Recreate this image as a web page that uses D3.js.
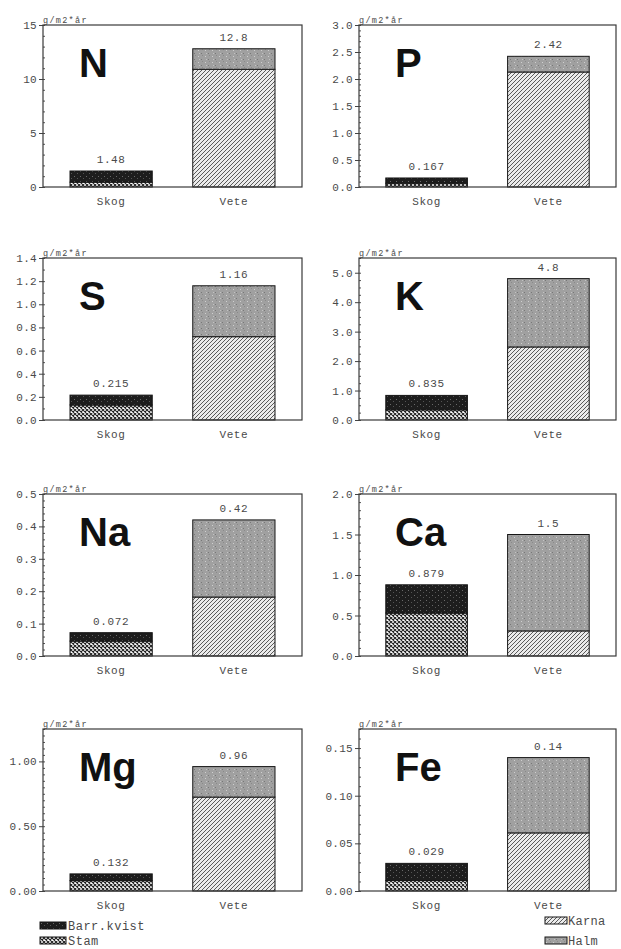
<!DOCTYPE html>
<html>
<head>
<meta charset="utf-8">
<script src="https://cdn.jsdelivr.net/npm/d3@7"></script>
<style>
  body { margin: 0; background: #fff; }
  svg text { font-family: "Liberation Mono", "DejaVu Sans Mono", monospace; fill: #4a4a4a; }
</style>
</head>
<body>
<svg></svg>
<script>
//Setting
const width = 621;
const height = 949;

//Data
const elements = ["N", "P", "S", "K", "Na", "Ca", "Mg", "Fe"];
const categories = ["Skog", "Vete"];
const yMax = [15, 3.0, 1.4, 5.5, 0.5, 2.0, 1.25, 0.17];
const tickLabels = [
  ["0", "5", "10", "15"],
  ["0.0", "0.5", "1.0", "1.5", "2.0", "2.5", "3.0"],
  ["0.0", "0.2", "0.4", "0.6", "0.8", "1.0", "1.2", "1.4"],
  ["0.0", "1.0", "2.0", "3.0", "4.0", "5.0"],
  ["0.0", "0.1", "0.2", "0.3", "0.4", "0.5"],
  ["0.0", "0.5", "1.0", "1.5", "2.0"],
  ["0.00", "0.50", "1.00"],
  ["0.00", "0.05", "0.10", "0.15"]
];
const minorStep = [1, 0.1, 0.1, 0.25, 0.02, 0.1, 0.05, 0.01];

// Skog: Stam (bottom) + Barr.kvist (top)
const skogStam = [0.45, 0.07, 0.13, 0.345, 0.046, 0.53, 0.08, 0.011];
const skogBarr = [1.03, 0.097, 0.085, 0.49, 0.026, 0.349, 0.052, 0.018];
// Vete: Karna (bottom) + Halm (top)
const veteKarna = [10.9, 2.13, 0.72, 2.48, 0.182, 0.31, 0.725, 0.061];
const veteHalm = [1.9, 0.29, 0.44, 2.32, 0.238, 1.19, 0.235, 0.079];
const skogTotals = ["1.48", "0.167", "0.215", "0.835", "0.072", "0.879", "0.132", "0.029"];
const veteTotals = ["12.8", "2.42", "1.16", "4.8", "0.42", "1.5", "0.96", "0.14"];

const unitLabel = "g/m2*år";
const legendLeft = ["Barr.kvist", "Stam"];
const legendRight = ["Karna", "Halm"];

//Layout
const colX = [43, 359];
const colW = [259, 257];
const rowY = [25, 258, 494, 729];
const panelH = 162;

const svg = d3.select("svg")
  .attr("width", width)
  .attr("height", height);

//Patterns
const defs = svg.append("defs");

const pBarr = defs.append("pattern").attr("id", "barr")
  .attr("patternUnits", "userSpaceOnUse").attr("width", 6).attr("height", 5);
pBarr.append("rect").attr("width", 6).attr("height", 5).attr("fill", "#1d1d1d");
pBarr.append("rect").attr("x", 1).attr("y", 1).attr("width", 1).attr("height", 1).attr("fill", "#6a6a6a");
pBarr.append("rect").attr("x", 4).attr("y", 3).attr("width", 1).attr("height", 1).attr("fill", "#555");

const pStam = defs.append("pattern").attr("id", "stam")
  .attr("patternUnits", "userSpaceOnUse").attr("width", 4).attr("height", 4);
pStam.append("rect").attr("width", 4).attr("height", 4).attr("fill", "#fff");
pStam.append("path").attr("d", "M0,0L4,4M4,0L0,4")
  .attr("stroke", "#222").attr("stroke-width", 1.1);

const pKarna = defs.append("pattern").attr("id", "karna")
  .attr("patternUnits", "userSpaceOnUse").attr("width", 4).attr("height", 4);
pKarna.append("rect").attr("width", 4).attr("height", 4).attr("fill", "#ebebeb");
pKarna.append("path").attr("d", "M-1,1L1,-1M0,4L4,0M3,5L5,3")
  .attr("stroke", "#4a4a4a").attr("stroke-width", 0.9);

const pHalm = defs.append("pattern").attr("id", "halm")
  .attr("patternUnits", "userSpaceOnUse").attr("width", 7).attr("height", 6);
pHalm.append("rect").attr("width", 7).attr("height", 6).attr("fill", "#a0a0a0");
pHalm.append("rect").attr("x", 1).attr("y", 1).attr("width", 1).attr("height", 1).attr("fill", "#cfcfcf");
pHalm.append("rect").attr("x", 4).attr("y", 4).attr("width", 1).attr("height", 1).attr("fill", "#777");
pHalm.append("rect").attr("x", 5).attr("y", 0).attr("width", 1).attr("height", 1).attr("fill", "#8a8a8a");
pHalm.append("rect").attr("x", 2).attr("y", 4).attr("width", 1).attr("height", 1).attr("fill", "#c2c2c2");

const fills = { Stam: "url(#stam)", Barr: "url(#barr)", Karna: "url(#karna)", Halm: "url(#halm)" };

//Panels
elements.forEach((el, i) => {
  const col = i % 2;
  const row = Math.floor(i / 2);
  const w = colW[col];
  const g = svg.append("g")
    .attr("transform", `translate(${colX[col]}, ${rowY[row]})`);

  const x = d3.scaleBand()
    .domain(categories)
    .range([0, w])
    .paddingInner(0.33)
    .paddingOuter(0.22);

  const y = d3.scaleLinear()
    .domain([0, yMax[i]])
    .range([panelH, 0]);

  const majors = tickLabels[i].map(Number);

  // minor ticks inside
  const minors = d3.range(0, yMax[i] + 1e-9, minorStep[i]);
  g.append("g")
    .call(d3.axisRight(y).tickValues(minors).tickSize(2).tickFormat(""))
    .call(a => a.select(".domain").remove())
    .selectAll("line").attr("stroke", "#555");

  // major ticks and labels
  const ax = g.append("g")
    .call(d3.axisLeft(y).tickValues(majors).tickSize(4).tickPadding(2)
      .tickFormat((d, k) => tickLabels[i][k]));
  ax.select(".domain").remove();
  ax.selectAll("line").attr("stroke", "#444");
  ax.selectAll("text")
    .style("font-family", '"Liberation Mono", monospace')
    .style("font-size", "11px")
    .style("letter-spacing", "0.3px")
    .attr("fill", "#5a5a5a");

  // stacks
  const stacks = [
    { cat: "Skog", parts: [["Stam", skogStam[i]], ["Barr", skogBarr[i]]], total: skogTotals[i] },
    { cat: "Vete", parts: [["Karna", veteKarna[i]], ["Halm", veteHalm[i]]], total: veteTotals[i] }
  ];

  stacks.forEach(s => {
    let base = 0;
    s.parts.forEach(([name, v]) => {
      g.append("rect")
        .attr("x", x(s.cat))
        .attr("y", y(base + v))
        .attr("width", x.bandwidth())
        .attr("height", y(base) - y(base + v))
        .attr("fill", fills[name])
        .attr("stroke", "#161616")
        .attr("stroke-width", 1);
      base += v;
    });
    g.append("text")
      .attr("x", x(s.cat) + x.bandwidth() / 2)
      .attr("y", y(base) - 8)
      .attr("text-anchor", "middle")
      .style("font-size", "11px")
      .style("letter-spacing", "0.6px")
      .text(s.total);
    g.append("text")
      .attr("x", x(s.cat) + x.bandwidth() / 2)
      .attr("y", panelH + 18)
      .attr("text-anchor", "middle")
      .style("font-size", "11px")
      .style("letter-spacing", "0.6px")
      .text(s.cat);
  });

  // frame
  g.append("rect")
    .attr("width", w)
    .attr("height", panelH)
    .attr("fill", "none")
    .attr("stroke", "#3a3a3a")
    .attr("stroke-width", 1.2);

  // unit
  g.append("text")
    .attr("x", 0)
    .attr("y", -2)
    .style("font-size", "8.5px")
    .style("letter-spacing", "1.3px")
    .attr("fill", "#333")
    .text(unitLabel);

  // element symbol
  g.append("text")
    .attr("x", 36)
    .attr("y", 52)
    .style("font-family", '"Liberation Sans", Arial, sans-serif')
    .style("font-size", "40px")
    .style("font-weight", "bold")
    .style("fill", "#111")
    .text(el);
});

//Legend
const legL = svg.append("g").attr("transform", "translate(40, 922)");
legendLeft.forEach((name, k) => {
  legL.append("rect")
    .attr("x", 0).attr("y", k * 15)
    .attr("width", 26).attr("height", 7)
    .attr("fill", k === 0 ? fills.Barr : fills.Stam)
    .attr("stroke", "#161616");
  legL.append("text")
    .attr("x", 28).attr("y", k * 15 + 8)
    .style("font-size", "12px")
    .style("letter-spacing", "0.5px")
    .attr("fill", "#333")
    .text(name);
});

const legR = svg.append("g").attr("transform", "translate(545, 917)");
legendRight.forEach((name, k) => {
  legR.append("rect")
    .attr("x", 0).attr("y", k * 20)
    .attr("width", 22).attr("height", 7)
    .attr("fill", k === 0 ? fills.Karna : fills.Halm)
    .attr("stroke", "#161616");
  legR.append("text")
    .attr("x", 23).attr("y", k * 20 + 8)
    .style("font-size", "12px")
    .style("letter-spacing", "0.3px")
    .attr("fill", "#333")
    .text(name);
});
</script>
</body>
</html>
